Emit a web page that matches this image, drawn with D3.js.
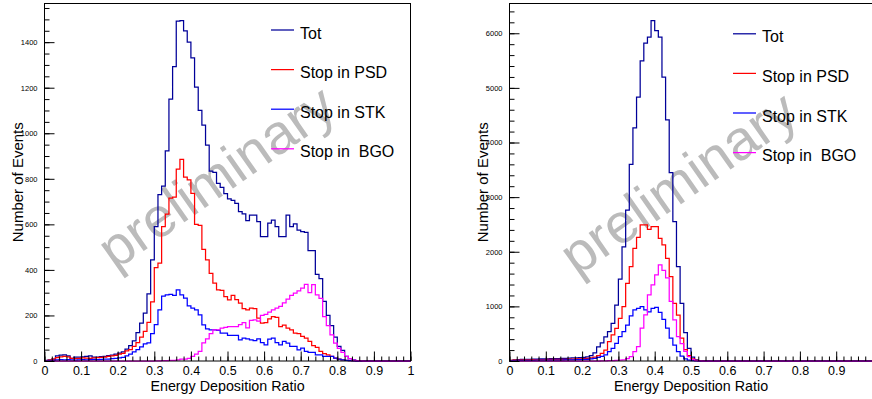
<!DOCTYPE html>
<html>
<head>
<meta charset="utf-8">
<script src="https://cdn.jsdelivr.net/npm/d3@7"></script>
<style>
  html, body { margin: 0; padding: 0; background: #fff; }
  svg { display: block; }
  text { font-family: "Liberation Sans", Arial, Helvetica, sans-serif; }
</style>
</head>
<body>
<svg id="chart" width="872" height="399"></svg>
<script>
// ---------------- DATA ----------------
const seriesNames = ["Tot", "Stop in PSD", "Stop in STK", "Stop in  BGO"];
const xTickLabelsLeft = ["0","0.1","0.2","0.3","0.4","0.5","0.6","0.7","0.8","0.9","1"];
const xTickLabelsRight = ["0","0.1","0.2","0.3","0.4","0.5","0.6","0.7","0.8","0.9",""];
const yTicksLeft = [0,200,400,600,800,1000,1200,1400];
const yTicksRight = [0,1000,2000,3000,4000,5000,6000];
const xTitle = "Energy Deposition Ratio";
const yTitle = "Number of Events";
const watermark = "preliminary";

// 100 bins of width 0.01 from 0 to 1
const leftTot = [
  3,5,8,22,26,27,22,12,17,17,
  18,20,23,17,17,19,20,24,26,30,
  35,40,52,68,88,125,166,210,295,444,
  590,730,768,923,1150,1293,1492,1495,1450,1400,
  1331,1203,1100,1036,948,834,828,780,762,735,
  712,705,692,656,646,616,641,641,612,546,
  546,605,619,590,546,546,641,590,602,575,
  568,565,485,485,380,362,262,200,155,105,
  64,47,20,10,5,2,1,0,0,0,
  0,0,0,0,0,0,0,0,0,0];
const leftPSD = [
  2,4,8,15,18,20,18,12,10,12,
  14,13,12,14,15,16,17,20,22,25,
  30,34,45,50,64,81,105,130,170,260,
  410,430,590,645,715,720,842,885,807,795,
  736,600,595,490,444,385,342,312,310,283,
  268,288,270,254,230,225,232,230,188,166,
  168,185,195,192,151,158,144,137,122,120,
  108,100,86,68,60,42,32,27,20,13,
  8,5,3,2,1,0,0,0,0,0,
  0,0,0,0,0,0,0,0,0,0];
const leftSTK = [
  1,2,3,5,6,5,6,5,4,5,
  6,5,6,7,6,7,8,8,10,12,
  14,16,22,30,40,50,62,75,80,120,
  160,225,285,290,293,288,312,290,276,242,
  232,225,203,159,141,137,137,135,122,122,
  112,112,112,93,100,97,93,90,97,81,
  71,96,100,81,71,86,78,64,64,49,
  56,42,38,38,27,27,20,20,20,13,
  8,5,3,2,1,0,0,0,0,0,
  0,0,0,0,0,0,0,0,0,0];
const leftBGO = [
  0,0,0,0,0,0,0,0,0,0,
  0,0,0,0,0,0,0,0,0,0,
  0,0,0,0,0,0,0,0,0,0,
  1,1,2,2,3,3,5,8,8,12,
  20,30,42,80,97,120,137,137,144,148,
  151,151,151,160,168,145,178,181,175,200,
  205,215,225,232,240,255,272,288,298,308,
  320,336,300,335,290,275,195,155,115,78,
  55,38,20,10,4,2,1,0,0,0,
  0,0,0,0,0,0,0,0,0,0];

const rightTot = [
  10,20,25,30,30,32,35,35,38,40,
  40,42,45,45,48,50,52,55,58,62,
  68,75,100,150,260,330,440,540,690,1025,
  1500,2090,2760,3600,4270,4830,5495,5818,5928,6233,
  6050,5928,5195,4414,3449,2552,1728,1056,520,230,
  70,20,5,2,1,0,0,0,0,0,
  0,0,0,0,0,0,0,0,0,0,
  0,0,0,0,0,0,0,0,0,0,
  0,0,0,0,0,0,0,0,0,0,
  0,0,0,0,0,0,0,0,0,0];
const rightPSD = [
  10,15,18,20,22,22,24,25,25,26,
  28,28,30,30,32,32,34,36,38,40,
  45,50,55,70,100,140,201,354,476,598,
  781,995,1423,1728,2063,2265,2490,2490,2411,2460,
  2460,2247,2124,1880,1545,1056,840,420,210,100,
  40,12,4,1,0,0,0,0,0,0,
  0,0,0,0,0,0,0,0,0,0,
  0,0,0,0,0,0,0,0,0,0,
  0,0,0,0,0,0,0,0,0,0,
  0,0,0,0,0,0,0,0,0,0];
const rightSTK = [
  5,8,10,10,12,12,12,14,14,15,
  15,16,16,18,18,20,20,22,24,26,
  28,32,40,50,65,85,110,171,230,324,
  446,540,659,824,934,964,995,934,900,964,
  983,890,760,600,420,290,170,90,40,15,
  5,2,0,0,0,0,0,0,0,0,
  0,0,0,0,0,0,0,0,0,0,
  0,0,0,0,0,0,0,0,0,0,
  0,0,0,0,0,0,0,0,0,0,
  0,0,0,0,0,0,0,0,0,0];
const rightBGO = [
  0,0,0,0,0,0,0,0,0,0,
  0,0,0,0,0,0,0,0,0,0,
  0,0,0,0,0,2,3,5,8,12,
  15,20,45,79,171,262,600,843,1209,1392,
  1575,1758,1660,1520,1090,751,446,320,175,80,
  25,8,2,0,0,0,0,0,0,0,
  0,0,0,0,0,0,0,0,0,0,
  0,0,0,0,0,0,0,0,0,0,
  0,0,0,0,0,0,0,0,0,0,
  0,0,0,0,0,0,0,0,0,0];

// ---------------- STYLE ----------------
const colors = ["#000099", "#ff0000", "#0000ff", "#ff00ff"];

const svg = d3.select("#chart");

function drawPanel(cfg) {
  const g = svg.append("g");
  const x = d3.scaleLinear().domain([0, 1]).range([cfg.x0, cfg.x1]);
  const yMax = d3.max(cfg.series[0]) * 1.05;
  const y = d3.scaleLinear().domain([0, yMax]).range([cfg.y1, cfg.y0]);

  // watermark
  g.append("text")
    .attr("transform", `translate(${cfg.wm[0]},${cfg.wm[1]}) rotate(-35)`)
    .attr("font-size", 56)
    .attr("fill", "#bbbbbb")
    .text(watermark);

  // histograms
  const binW = 0.01;
  const line = d3.line().x(d => x(d[0])).y(d => y(d[1])).curve(d3.curveStepAfter);
  cfg.series.forEach((vals, k) => {
    const pts = vals.map((v, i) => [i * binW, v]);
    pts.push([vals.length * binW, vals[vals.length - 1]]);
    g.append("path")
      .attr("d", line(pts))
      .attr("fill", "none")
      .attr("stroke", colors[k])
      .attr("stroke-width", 1.25);
  });

  // frame
  g.append("rect")
    .attr("x", cfg.x0).attr("y", cfg.y0)
    .attr("width", cfg.x1 - cfg.x0).attr("height", cfg.y1 - cfg.y0)
    .attr("fill", "none").attr("stroke", "#000").attr("stroke-width", 1);

  // x axis ticks
  const xMinor = d3.range(0, 1.0001, 0.02);
  const xMajor = d3.range(0, 1.0001, 0.1);
  const xAxisMinor = d3.axisBottom(x).tickValues(xMinor).tickSize(-4.5).tickFormat("");
  const xAxisMajor = d3.axisBottom(x).tickValues(xMajor).tickSize(-9.5).tickPadding(5.6)
    .tickFormat((d, i) => cfg.xLabels[i]);
  const gxm = g.append("g").attr("transform", `translate(0,${cfg.y1})`).call(xAxisMinor);
  const gx = g.append("g").attr("transform", `translate(0,${cfg.y1})`).call(xAxisMajor);
  [gxm, gx].forEach(a => a.select(".domain").remove());
  gx.selectAll("text").attr("font-size", 12.5).attr("fill", "#000")
    .attr("font-family", '"Liberation Sans", Arial, sans-serif');
  g.selectAll(".tick line").attr("stroke", "#000");

  // y axis ticks
  const yMinor = d3.range(0, yMax, cfg.yMinorStep);
  const yAxisMinor = d3.axisLeft(y).tickValues(yMinor).tickSize(-5).tickFormat("");
  const yAxisMajor = d3.axisLeft(y).tickValues(cfg.yTicks).tickSize(-10).tickPadding(7)
    .tickFormat(d3.format("d"));
  const gym = g.append("g").attr("transform", `translate(${cfg.x0},0)`).call(yAxisMinor);
  const gy = g.append("g").attr("transform", `translate(${cfg.x0},0)`).call(yAxisMajor);
  [gym, gy].forEach(a => a.select(".domain").remove());
  gy.selectAll("text").attr("font-size", 7.5).attr("fill", "#000")
    .attr("font-family", '"Liberation Sans", Arial, sans-serif');
  g.selectAll(".tick line").attr("stroke", "#000");

  // axis titles
  g.append("text")
    .attr("x", (cfg.x0 + cfg.x1) / 2).attr("y", 391)
    .attr("text-anchor", "middle").attr("font-size", 14.3).attr("fill", "#000")
    .text(xTitle);
  g.append("text")
    .attr("transform", `translate(${cfg.x0 - 21.5},${(cfg.y0 + cfg.y1) / 2}) rotate(-90)`)
    .attr("text-anchor", "middle").attr("font-size", 15).attr("fill", "#000")
    .text(yTitle);

  // legend
  seriesNames.forEach((name, k) => {
    const by = cfg.legY + k * 39.6;
    g.append("line")
      .attr("x1", cfg.legX).attr("x2", cfg.legX + 23)
      .attr("y1", by - 8.5).attr("y2", by - 8.5)
      .attr("stroke", colors[k]).attr("stroke-width", 1.25);
    g.append("text")
      .attr("x", cfg.legX + 29).attr("y", by)
      .attr("font-size", 16).attr("fill", "#000")
      .style("white-space", "pre")
      .text(name);
  });
}

drawPanel({
  x0: 44.5, x1: 410.5, y0: 3.5, y1: 361,
  series: [leftTot, leftPSD, leftSTK, leftBGO],
  xLabels: xTickLabelsLeft, yTicks: yTicksLeft, yMinorStep: 50,
  legX: 271, legY: 38.5, wm: [115, 271]
});
drawPanel({
  x0: 509.5, x1: 872.5, y0: 3.5, y1: 361,
  series: [rightTot, rightPSD, rightSTK, rightBGO],
  xLabels: xTickLabelsRight, yTicks: yTicksRight, yMinorStep: 200,
  legX: 733, legY: 42.3, wm: [577, 277]
});
</script>
</body>
</html>
